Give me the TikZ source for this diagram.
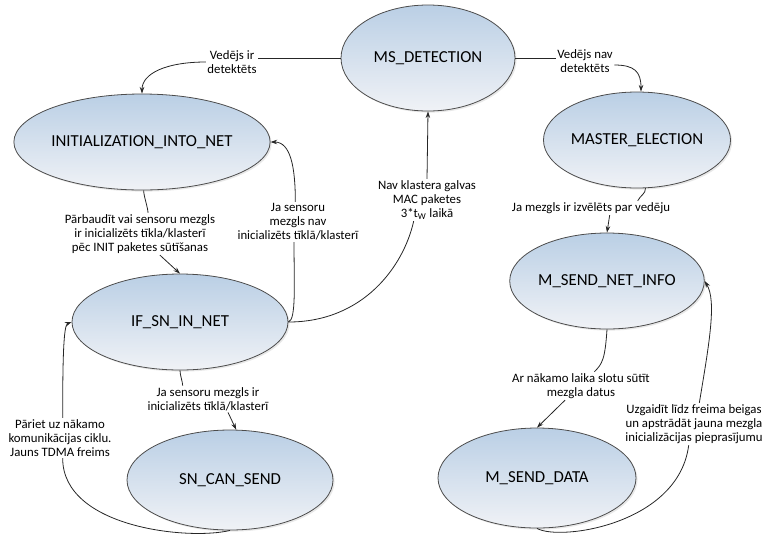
\documentclass[tikz,border=0pt]{standalone}
\usepackage{fontspec}
\setmainfont{Carlito}
\usetikzlibrary{shapes.geometric,arrows.meta,shadows}
\definecolor{stTop}{RGB}{186,207,229}
\definecolor{stBot}{RGB}{240,242,246}

\begin{document}
\begin{tikzpicture}[x=0.75pt,y=-0.75pt,>={Stealth[length=5pt,width=3.4pt]},
    state/.style={ellipse,draw=black!70,line width=0.6pt,inner sep=0pt,
      top color=stTop,bottom color=stBot,
      drop shadow={opacity=0.18,shadow xshift=1.2pt,shadow yshift=-1.2pt},
      font=\fontsize{12.6}{14}\selectfont},
    lbl/.style={align=center,inner sep=1pt,font=\fontsize{9.6}{10.6}\selectfont},
    conn/.style={draw=black!85,line width=0.6pt}]
  \useasboundingbox (0,0) rectangle (766,533);

  % states
  \node[state,minimum width=130.5pt,minimum height=79.5pt] (ms) at (428,58) {MS\_DETECTION};
  \node[state,minimum width=169.5pt,minimum height=72pt] (init) at (142,142) {INITIALIZATION\_INTO\_NET};
  \node[state,minimum width=124.5pt,minimum height=72pt] (master) at (637,140) {MASTER\_ELECTION};
  \node[state,minimum width=139.5pt,minimum height=72pt] (msni) at (607,281) {M\_SEND\_NET\_INFO};
  \node[state,minimum width=148.5pt,minimum height=75pt] (msd) at (537,478) {M\_SEND\_DATA};
  \node[state,minimum width=162pt,minimum height=72pt] (ifsn) at (180,322) {IF\_SN\_IN\_NET};
  \node[state,minimum width=154.5pt,minimum height=75pt] (sncs) at (230,480) {SN\_CAN\_SEND};

  % transition labels
  \node[lbl] (lDet) at (232,62) {Vedējs ir\\detektēts};
  \node[lbl] (lNotDet) at (585,61) {Vedējs nav\\detektēts};
  \node[lbl] (lElect) at (591,208) {Ja mezgls ir izvēlēts par vedēju};
  \node[lbl] (lNext) at (581,386) {Ar nākamo laika slotu sūtīt\\mezgla datus};
  \node[lbl] (lWait) at (694,424) {Uzgaidīt līdz freima beigas\\un apstrādāt jauna mezgla\\inicializācijas pieprasījumu};
  \node[lbl] (lNoMac) at (427,200) {Nav klastera galvas\\MAC paketes\\3*t\textsubscript{W} laikā};
  \node[lbl] (lCheck) at (140,234) {Pārbaudīt vai sensoru mezgls\\ir inicializēts tīkla/klasterī\\pēc INIT paketes sūtīšanas};
  \node[lbl] (lNotInit) at (298,222) {Ja sensoru\\mezgls nav\\inicializēts tīklā/klasterī};
  \node[lbl] (lInit) at (208,399) {Ja sensoru mezgls ir\\inicializēts tīklā/klasterī};
  \node[lbl] (lCycle) at (60,438) {Pāriet uz nākamo\\komunikācijas ciklu.\\Jauns TDMA freims};

  % transitions
  \draw[conn] (ms.west) -- (ms.west -| lDet.east);
  \draw[conn,->] (lDet.west) .. controls +(-40,0) and +(0,-20) .. (init.north);
  \draw[conn] (ms.east) -- (ms.east -| lNotDet.west);
  \draw[conn,->] ([yshift=-3pt]lNotDet.east) .. controls +(20,0) and +(0,-20) .. ([xshift=3pt]master.north);
  \draw[conn] (master.-80) .. controls +(0,6) and +(3,-6) .. ([xshift=35pt]lElect.north);
  \draw[conn,->] ([xshift=14pt]lElect.south) -- (msni.north);
  \draw[conn] (msni.south) .. controls +(-2,30) and +(8,-8) .. ([xshift=10pt]lNext.north);
  \draw[conn,->] ([xshift=-12pt]lNext.south) -- (msd.north);
  \draw[conn] (msd.south) .. controls +(23,13) and +(-10,79) .. ([xshift=-4pt]lWait.south);
  \draw[conn,->] ([xshift=4pt]lWait.north) .. controls +(10,-60) and +(12,20) .. (msni.east);
  \draw[conn] (ifsn.east) .. controls +(75,0) and +(-10,45) .. ([xshift=-10pt]lNoMac.south);
  \draw[conn,->] (lNoMac.north) -- (ms.south);
  \draw[conn] (init.-88) .. controls +(0,6) and +(0,-5) .. ([xshift=6pt]lCheck.north);
  \draw[conn,->] ([xshift=15pt]lCheck.south) -- (ifsn.north);
  \draw[conn] (ifsn.east) .. controls +(8,-2) and +(0,40) .. ([xshift=-3pt]lNotInit.south);
  \draw[conn,->] ([xshift=-2pt]lNotInit.north) .. controls +(0,-35) and +(20,0) .. (init.east);
  \draw[conn] (ifsn.south) .. controls +(0,5) and +(0,-4) .. ([xshift=-19pt]lInit.north);
  \draw[conn,->] ([xshift=15pt]lInit.south) -- (sncs.83);
  \draw[conn] (sncs.south) .. controls +(-40,10) and +(0,70) .. ([xshift=2pt]lCycle.south);
  \draw[conn,->] ([xshift=2pt]lCycle.north) .. controls +(0,-60) and +(-8,3) .. (ifsn.west);
\end{tikzpicture}
\end{document}
